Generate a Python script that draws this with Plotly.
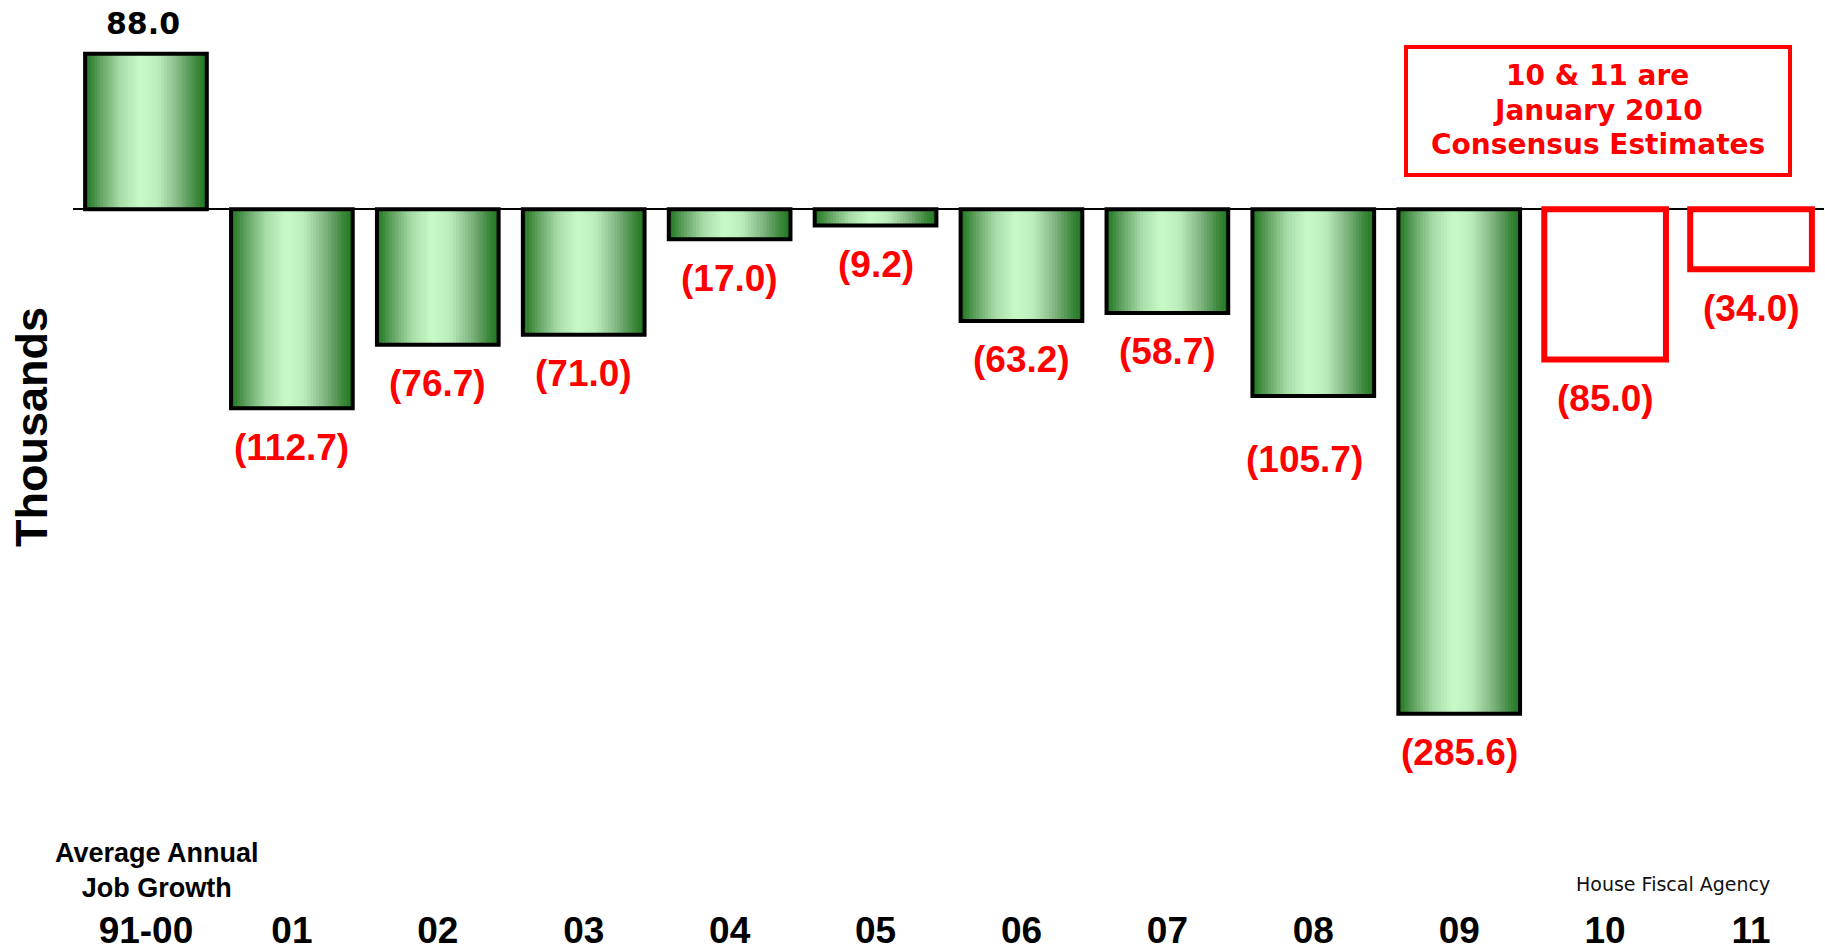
import plotly.graph_objects as go

# Michigan wage & salary employment change, thousands of jobs
categories = ["91-00", "01", "02", "03", "04", "05", "06", "07", "08", "09", "10", "11"]
actual_values = [88.0, -112.7, -76.7, -71.0, -17.0, -9.2, -63.2, -58.7, -105.7, -285.6]
estimate_values = [-85.0, -34.0]
note_lines = ["10 & 11 are", "January 2010", "Consensus Estimates"]

actual_cats = categories[:len(actual_values)]
estimate_cats = categories[len(actual_values):]
all_values = actual_values + estimate_values

BAR_W = 0.834
N_SLICES = 40

# horizontal "cylinder" shading across each green bar
stops = [
    (0.00, (28, 118, 28)),
    (0.12, (95, 160, 95)),
    (0.28, (165, 218, 165)),
    (0.45, (200, 250, 200)),
    (0.60, (188, 236, 188)),
    (0.78, (125, 178, 125)),
    (0.92, (60, 135, 60)),
    (1.00, (28, 118, 28)),
]


def shade(t):
    for (t0, c0), (t1, c1) in zip(stops[:-1], stops[1:]):
        if t0 <= t <= t1:
            f = (t - t0) / (t1 - t0)
            r, g, b = (round(a + (b_ - a) * f) for a, b_ in zip(c0, c1))
            return f"rgb({r},{g},{b})"
    return "rgb(28,118,28)"


fig = go.Figure()

# each slice runs from its left edge to the bar's right edge; later slices cover earlier ones
for i in range(N_SLICES):
    left = -BAR_W / 2 + i * BAR_W / N_SLICES
    fig.add_trace(go.Bar(
        x=actual_cats, y=actual_values,
        width=BAR_W / 2 - left, offset=left,
        marker=dict(color=shade((i + 0.5) / N_SLICES), line=dict(width=0)),
        hoverinfo="skip", showlegend=False,
    ))

# black outlines of the actual bars
fig.add_trace(go.Bar(
    x=actual_cats, y=actual_values, width=BAR_W, offset=-BAR_W / 2,
    marker=dict(color="rgba(0,0,0,0)", line=dict(color="black", width=4)),
    showlegend=False,
))

# consensus estimates as open red bars
fig.add_trace(go.Bar(
    x=estimate_cats, y=estimate_values, width=BAR_W, offset=-BAR_W / 2,
    marker=dict(color="white", line=dict(color="#ff0000", width=6)),
    showlegend=False,
))

annotations = []
for cat, v in zip(categories, all_values):
    if v >= 0:
        annotations.append(dict(
            x=cat, y=v, xref="x", yref="y", text=f"{v:.1f}", showarrow=False,
            yanchor="middle", yshift=30, xshift=-3,
            font=dict(family="DejaVu Sans", size=30, color="black", weight="bold"),
        ))
    else:
        # the 08 label sits a little lower and to the left
        low = cat == "08"
        annotations.append(dict(
            x=cat, y=v, xref="x", yref="y", text=f"({abs(v):.1f})", showarrow=False,
            yanchor="middle", yshift=-64 if low else -39, xshift=-9 if low else 0,
            font=dict(family="Liberation Sans", size=37, color="#ff0000", weight="bold"),
        ))

# boxed note, one annotation per line
for k, line in enumerate(note_lines):
    annotations.append(dict(
        text=line, xref="paper", yref="paper", x=0.8709, y=0.9166 - k * 0.0384,
        xanchor="center", yanchor="middle", showarrow=False,
        font=dict(family="DejaVu Sans", size=28, color="#ff0000", weight="bold"),
    ))

annotations += [
    dict(text="Average Annual<br>Job Growth",
         xref="paper", yref="paper", x=0.0477, y=0.038, xanchor="center", yanchor="middle",
         showarrow=False,
         font=dict(family="Liberation Sans", size=27, color="black", weight="bold")),
    dict(text="House Fiscal Agency",
         xref="paper", yref="paper", x=0.9135, y=0.0232, xanchor="center", yanchor="middle",
         showarrow=False,
         font=dict(family="DejaVu Sans", size=19, color="#111111")),
    dict(text="Thousands", textangle=-90,
         xref="paper", yref="paper", x=-0.0237, y=0.5276, xanchor="center", yanchor="middle",
         showarrow=False,
         font=dict(family="Liberation Sans", size=45, color="black", weight="bold")),
]

fig.update_layout(
    width=1825, height=950, autosize=False,
    margin=dict(l=73, r=1, t=0, b=45),
    paper_bgcolor="white", plot_bgcolor="white",
    barmode="overlay",
    annotations=annotations,
    shapes=[dict(type="rect", xref="paper", yref="paper",
                 x0=0.7613, x1=0.9806, y0=0.8066, y1=0.948,
                 line=dict(color="#ff0000", width=4), fillcolor="rgba(0,0,0,0)")],
    xaxis=dict(
        type="category", categoryorder="array", categoryarray=categories,
        range=[-0.5, 11.5], showgrid=False, showline=False, ticks="",
        automargin=False,
        tickfont=dict(family="Liberation Sans", size=37, color="black", weight="bold"),
    ),
    yaxis=dict(
        range=[-393.9, 118.5], showgrid=False, showticklabels=False, ticks="",
        automargin=False,
        zeroline=True, zerolinecolor="black", zerolinewidth=1.5,
    ),
)

fig.write_html("out.html")
